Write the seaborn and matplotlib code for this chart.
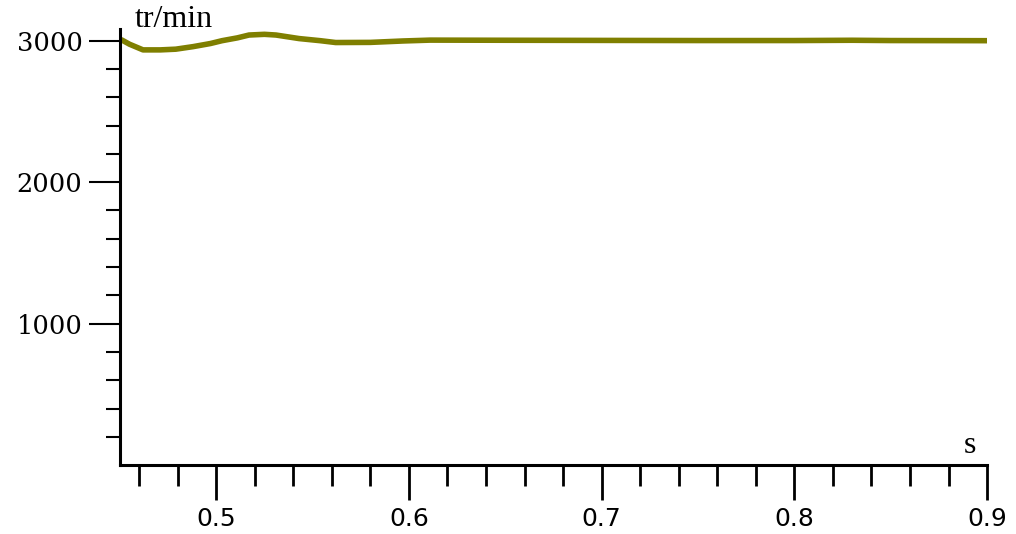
import matplotlib
matplotlib.use("Agg")
import matplotlib.pyplot as plt
import seaborn as sns
import pandas as pd
from matplotlib.ticker import FixedLocator

# Data
time_s = [0.450, 0.451, 0.455, 0.462, 0.471, 0.479, 0.488, 0.497, 0.503,
          0.511, 0.517, 0.525, 0.531, 0.543, 0.554, 0.562, 0.580, 0.597,
          0.611, 0.650, 0.700, 0.750, 0.800, 0.830, 0.850, 0.900]
speed_rpm = [3008, 3005, 2975, 2935, 2935, 2940, 2958, 2980, 3000,
             3020, 3040, 3045, 3040, 3015, 3000, 2987, 2988, 2998,
             3004, 3003, 3002, 3001, 3001, 3003, 3001, 3000]
x_major = [0.5, 0.6, 0.7, 0.8, 0.9]
x_labels = ["0.5", "0.6", "0.7", "0.8", "0.9"]
x_minor = [0.46, 0.48, 0.52, 0.54, 0.56, 0.58, 0.62, 0.64, 0.66, 0.68,
           0.72, 0.74, 0.76, 0.78, 0.82, 0.84, 0.86, 0.88]
y_major = [1000, 2000, 3000]
y_labels = ["1000", "2000", "3000"]
y_minor = [200, 400, 600, 800, 1200, 1400, 1600, 1800,
           2200, 2400, 2600, 2800]

df = pd.DataFrame({"t": time_s, "n": speed_rpm})

sns.set_style("ticks")
plt.rcParams["font.family"] = ["Liberation Serif", "DejaVu Serif"]

fig = plt.figure(figsize=(10.16, 5.34), dpi=100)
ax = fig.add_axes([0.118, 0.129, 0.8535, 0.816])

sns.lineplot(data=df, x="t", y="n", ax=ax, color="#7f7f00", linewidth=4,
             estimator=None, sort=False)

ax.set_xlim(0.45, 0.9)
ax.set_ylim(0, 3080)
ax.set_xlabel("")
ax.set_ylabel("")

for s in ["top", "right"]:
    ax.spines[s].set_visible(False)
for s in ["left", "bottom"]:
    ax.spines[s].set_linewidth(2.2)
    ax.spines[s].set_color("black")

ax.xaxis.set_major_locator(FixedLocator(x_major))
ax.set_xticklabels(x_labels, fontfamily="DejaVu Sans", fontsize=18)
ax.xaxis.set_minor_locator(FixedLocator(x_minor))
ax.yaxis.set_major_locator(FixedLocator(y_major))
ax.set_yticklabels(y_labels, fontfamily="DejaVu Serif", fontsize=18.5)
ax.yaxis.set_minor_locator(FixedLocator(y_minor))

ax.tick_params(axis="x", which="major", length=25, width=2, pad=5,
               colors="black", labelcolor="black")
ax.tick_params(axis="x", which="minor", length=15, width=2, colors="black")
ax.tick_params(axis="y", which="major", length=22, width=1.5, pad=5,
               colors="black", labelcolor="black")
ax.tick_params(axis="y", which="minor", length=10, width=1.5, colors="black")

fig.text(0.133, 0.963, "tr/min", fontsize=23, ha="left", va="center",
         color="black")
fig.text(0.955, 0.165, "s", fontsize=23, ha="center", va="center",
         color="black")

fig.savefig("out.png", dpi=100, facecolor="white")
